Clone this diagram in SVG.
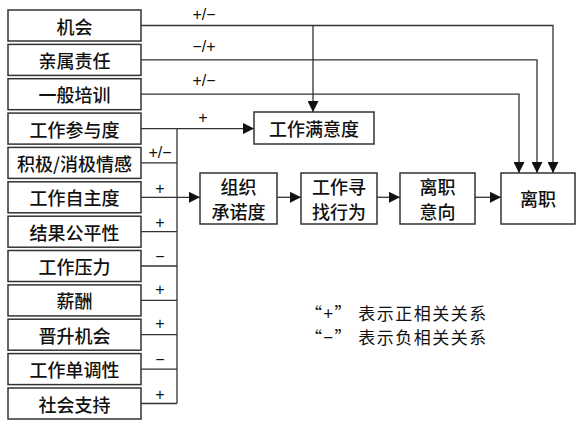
<svg xmlns="http://www.w3.org/2000/svg" width="580" height="426" viewBox="0 0 580 426">
<style>
.b{fill:#fff;stroke:#333;stroke-width:1.5}
.t{font-family:"Noto Sans CJK SC","Noto Sans",sans-serif;font-size:18px;font-weight:500;fill:#111;text-anchor:middle;dominant-baseline:central}
.s{font-family:"Liberation Sans","Noto Sans CJK SC",sans-serif;font-size:16px;fill:#111;text-anchor:middle;dominant-baseline:central}
.l{fill:none;stroke:#333;stroke-width:1.3}
.g{font-family:"Noto Sans CJK SC",sans-serif;font-size:17px;letter-spacing:1.5px;fill:#111}
</style>
<defs>
<marker id="a2" viewBox="0 0 10 10" refX="10" refY="5" markerWidth="11" markerHeight="11" markerUnits="userSpaceOnUse" orient="auto"><path d="M0,0L10,5L0,10z" fill="#111"/></marker>
</defs>
<g id="connectors">
<path class="l" d="M141,25.5H553V173" marker-end="url(#a2)"/>
<path class="l" d="M141,59.9H537V173" marker-end="url(#a2)"/>
<path class="l" d="M141,94.2H519V173" marker-end="url(#a2)"/>
<path class="l" d="M313,25.5V112" marker-end="url(#a2)"/>
<path class="l" d="M141,128.6H254" marker-end="url(#a2)"/>
<path class="l" d="M177,128.6V403.5"/>
<path class="l" d="M141,162.9H177M141,231.7H177M141,266H177M141,300.4H177M141,334.7H177M141,369.1H177M141,403.5H177"/>
<path class="l" d="M141,197.3H200" marker-end="url(#a2)"/>
<path class="l" d="M277,197.3H301" marker-end="url(#a2)"/>
<path class="l" d="M377,197.3H400" marker-end="url(#a2)"/>
<path class="l" d="M475,197.3H501" marker-end="url(#a2)"/>
<text class="s" x="204" y="14">+/−</text>
<text class="s" x="204" y="46">−/+</text>
<text class="s" x="204" y="80">+/−</text>
<text class="s" x="203" y="117">+</text>
<text class="s" x="160" y="152">+/−</text>
<text class="s" x="160" y="188">+</text>
<text class="s" x="160" y="222">+</text>
<text class="s" x="160" y="256">−</text>
<text class="s" x="160" y="289">+</text>
<text class="s" x="160" y="323">+</text>
<text class="s" x="160" y="359">−</text>
<text class="s" x="160" y="394">+</text>
</g>
<g id="n1"><rect class="b" x="8" y="10" width="133" height="31"/><text class="t" x="74.5" y="25.5">机会</text></g>
<g id="n2"><rect class="b" x="8" y="44.4" width="133" height="31"/><text class="t" x="74.5" y="59.9">亲属责任</text></g>
<g id="n3"><rect class="b" x="8" y="78.7" width="133" height="31"/><text class="t" x="74.5" y="94.2">一般培训</text></g>
<g id="n4"><rect class="b" x="8" y="113.1" width="133" height="31"/><text class="t" x="74.5" y="128.6">工作参与度</text></g>
<g id="n5"><rect class="b" x="8" y="147.4" width="133" height="31"/><text class="t" x="74.5" y="162.9">积极/消极情感</text></g>
<g id="n6"><rect class="b" x="8" y="181.8" width="133" height="31"/><text class="t" x="74.5" y="197.3">工作自主度</text></g>
<g id="n7"><rect class="b" x="8" y="216.2" width="133" height="31"/><text class="t" x="74.5" y="231.7">结果公平性</text></g>
<g id="n8"><rect class="b" x="8" y="250.5" width="133" height="31"/><text class="t" x="74.5" y="266">工作压力</text></g>
<g id="n9"><rect class="b" x="8" y="284.9" width="133" height="31"/><text class="t" x="74.5" y="300.4">薪酬</text></g>
<g id="n10"><rect class="b" x="8" y="319.2" width="133" height="31"/><text class="t" x="74.5" y="334.7">晋升机会</text></g>
<g id="n11"><rect class="b" x="8" y="353.6" width="133" height="31"/><text class="t" x="74.5" y="369.1">工作单调性</text></g>
<g id="n12"><rect class="b" x="8" y="388" width="133" height="31"/><text class="t" x="74.5" y="403.5">社会支持</text></g>
<g id="sat"><rect class="b" x="254" y="112" width="120" height="32"/><text class="t" x="314" y="128">工作满意度</text></g>
<g id="oc"><rect class="b" x="200" y="173" width="77" height="51"/><text class="t" x="238.5" y="186">组织</text><text class="t" x="238.5" y="211">承诺度</text></g>
<g id="js"><rect class="b" x="301" y="173" width="76" height="51"/><text class="t" x="339" y="186">工作寻</text><text class="t" x="339" y="211">找行为</text></g>
<g id="ti"><rect class="b" x="400" y="173" width="75" height="51"/><text class="t" x="437.5" y="186">离职</text><text class="t" x="437.5" y="211">意向</text></g>
<g id="to"><rect class="b" x="501" y="173" width="74" height="51"/><text class="t" x="538" y="198">离职</text></g>
<g id="legend">
<text class="g" x="305" y="320">“+” 表示正相关关系</text>
<text class="g" x="305" y="344">“−” 表示负相关关系</text>
</g>
</svg>
